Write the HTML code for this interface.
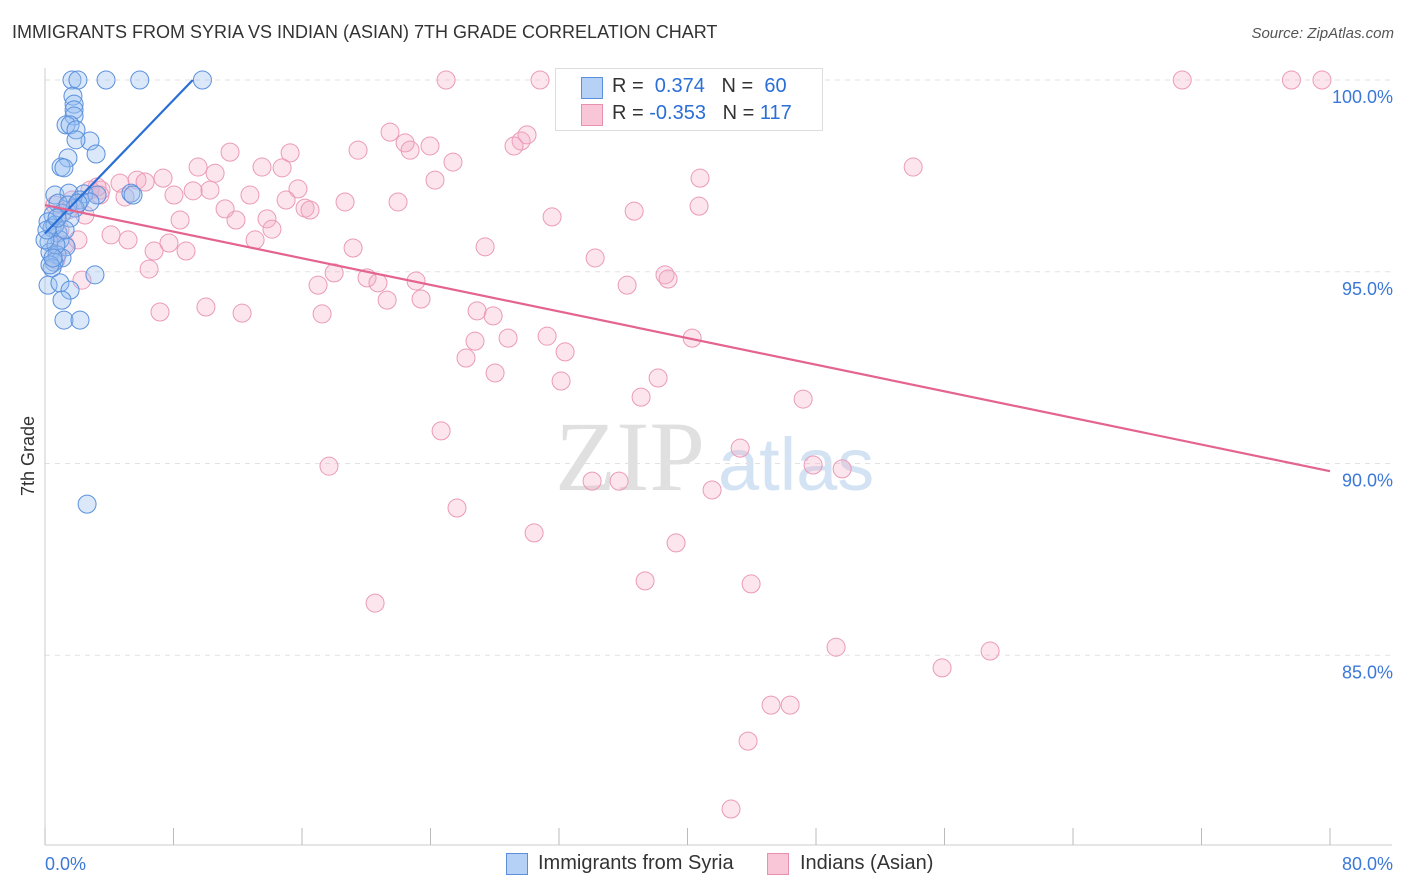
<!DOCTYPE html>
<html><head><meta charset="utf-8">
<style>
body{margin:0;background:#fff;font-family:"Liberation Sans",sans-serif;}
#wrap{position:relative;width:1406px;height:892px;overflow:hidden;}
.t{position:absolute;white-space:nowrap;}
</style></head><body>
<div id="wrap">
<div class="t" style="left:12px;top:22px;font-size:18px;color:#333;">IMMIGRANTS FROM SYRIA VS INDIAN (ASIAN) 7TH GRADE CORRELATION CHART</div>
<div class="t" style="right:12px;top:25px;font-size:15px;color:#555;font-style:italic;">Source: ZipAtlas.com</div>
<svg id="svg" width="1406" height="892" style="position:absolute;left:0;top:0"></svg>
</div>
<script>
const xTicks=[0,80];
const yTicks=[100,95,90,85];
const blueX=[1.68,2.05,3.8,5.9,9.8,1.74,1.81,1.81,1.81,1.31,1.56,1.93,2.8,1.93,1.43,3.18,1.0,1.18,0.62,1.49,2.43,3.24,5.35,5.48,2.18,2.8,1.87,0.81,0.5,1.06,1.56,0.19,0.44,0.81,0.25,0.93,1.31,0.31,0.75,1.06,0.56,0.44,0.19,0.93,1.56,3.11,1.06,1.18,2.18,2.62,0.62,1.25,0.31,0.68,1.43,2.05,0,0.12,0.75,0.5];
const blueY=[100,100,100,100,100,99.58,99.37,99.22,99.06,98.83,98.83,98.7,98.41,98.44,97.97,98.07,97.73,97.71,97.0,97.05,97.03,97.0,97.05,97.0,96.87,96.82,96.66,96.79,96.48,96.53,96.4,96.3,96.14,96.01,95.78,95.83,95.65,95.51,95.44,95.36,95.25,95.1,94.65,94.71,94.52,94.92,94.26,93.74,93.74,88.94,96.22,96.09,95.18,95.7,96.74,96.79,95.83,96.09,96.4,95.36];
const pinkX=[24.97,30.82,46.7,70.8,77.6,79.5,21.48,22.42,23.97,22.73,19.49,29.64,30.01,29.2,11.52,15.26,25.4,54.05,9.53,13.51,10.59,14.76,40.78,24.28,7.35,5.73,6.23,4.67,10.27,9.22,8.03,15.75,12.76,4.98,3.49,3.24,18.68,21.98,15.01,16.19,16.5,40.72,36.68,31.57,11.21,8.41,11.89,13.82,14.13,4.11,5.17,13.08,7.72,6.79,8.78,19.18,27.4,34.25,6.48,18.0,20.05,20.73,23.1,17.0,38.6,38.79,36.24,21.3,23.41,17.25,26.9,27.9,7.16,10.02,12.27,31.26,28.83,26.77,32.38,26.21,28.02,32.13,38.17,40.29,37.11,47.2,24.66,17.68,43.28,47.82,49.63,34.06,35.74,41.53,25.65,30.45,39.29,37.36,43.96,20.55,49.25,58.84,55.85,45.2,46.39,43.77,42.71,2.3,1.43,0.93,0.62,2.05,2.8,3.42,1.25,1.68,2.49,0.68];
const pinkY=[100,100,100,100,100,100,98.64,98.36,98.28,98.17,98.17,98.41,98.57,98.28,98.12,98.1,97.86,97.73,97.73,97.73,97.57,97.71,97.44,97.39,97.44,97.39,97.34,97.31,97.13,97.11,97.0,97.16,97.0,96.95,97.13,97.21,96.82,96.82,96.87,96.66,96.61,96.71,96.58,96.43,96.64,96.35,96.35,96.38,96.11,95.96,95.83,95.83,95.75,95.54,95.54,95.62,95.65,95.36,95.07,94.97,94.84,94.71,94.76,94.65,94.92,94.81,94.65,94.26,94.29,93.9,93.98,93.85,93.95,94.08,93.92,93.32,93.27,93.19,92.91,92.75,92.36,92.15,92.23,93.27,91.73,91.68,90.85,89.93,90.4,89.96,89.86,89.54,89.54,89.31,88.84,88.19,87.93,86.94,86.86,86.36,85.21,85.11,84.67,83.7,83.7,82.76,80.99,94.78,96.61,96.09,96.74,95.83,97.13,97.0,95.7,96.87,96.48,95.31];
const blueTrend=[0,96.0,9.2,100];
const pinkTrend=[0,96.74,80,89.8];

const svg=document.getElementById('svg');
const NS='http://www.w3.org/2000/svg';
const X0=45,X1=1330,Y100=80,PXPER=38.35;
const sx=v=>X0+(X1-X0)*v/80;
const sy=v=>Y100+(100-v)*PXPER;
function mk(tag,attrs,parent){const e=document.createElementNS(NS,tag);for(const k in attrs)e.setAttribute(k,attrs[k]);(parent||svg).appendChild(e);return e;}
const wm=mk('text',{x:555,y:490,'font-size':100,fill:'#e0e0e0','font-family':'Liberation Serif, serif'});wm.textContent='ZIP';


const wm2=mk('text',{x:718,y:490,'font-size':74,fill:'#d3e3f4','font-family':'Liberation Sans, sans-serif'});wm2.textContent='atlas';


yTicks.forEach(v=>{
 const l=mk('line',{x1:X0,x2:1392,y1:sy(v),y2:sy(v),stroke:'#e2e2e2','stroke-dasharray':'5,5'});
 
 
 const t=mk('text',{x:1393,y:sy(v)+23,'text-anchor':'end','font-size':18,fill:'#3b78d8'});
 t.textContent=v.toFixed(1)+'%';
 
 
});
mk('line',{x1:X0,x2:X0,y1:68,y2:845,stroke:'#ccc'});
mk('line',{x1:X0,x2:1392,y1:845,y2:845,stroke:'#ccc'});
for(let i=0;i<=10;i++){const x=sx(i*8);mk('line',{x1:x,x2:x,y1:828,y2:845,stroke:'#bbb'});}
xTicks.forEach((v,i)=>{
 const t=mk('text',{x:i==0?45:1393,y:870,'text-anchor':i==0?'start':'end','font-size':18,fill:'#3b78d8'});
 t.textContent=v.toFixed(1)+'%';
 
 
});
const yt=mk('text',{x:34,y:456,'font-size':18,fill:'#333',transform:'rotate(-90 34 456)','text-anchor':'middle'});
yt.textContent='7th Grade';


pinkX.forEach((v,i)=>{
 const c=mk('circle',{cx:sx(v),cy:sy(pinkY[i]),r:9,fill:'rgba(244,170,195,0.3)',stroke:'#eb9ab8','stroke-width':1});
 
 
});
blueX.forEach((v,i)=>{
 const c=mk('circle',{cx:sx(v),cy:sy(blueY[i]),r:9,fill:'rgba(150,190,240,0.35)',stroke:'#5a90dc','stroke-width':1});
 
 
});
const bl=mk('line',{x1:sx(blueTrend[0]),y1:sy(blueTrend[1]),x2:sx(blueTrend[2]),y2:sy(blueTrend[3]),stroke:'#2a6fd6','stroke-width':2.2});


const pl=mk('line',{x1:sx(pinkTrend[0]),y1:sy(pinkTrend[1]),x2:sx(pinkTrend[2]),y2:sy(pinkTrend[3]),stroke:'#e4638f','stroke-width':2.2});


</script>
<div class="t" style="left:555px;top:68px;width:266px;height:61px;border:1px solid #ddd;background:#fff;">
 <div class="t" style="left:25px;top:8px;width:20px;height:20px;background:#b5d1f5;border:1px solid #5b8fd9;"></div>
 <div class="t" style="left:56px;top:6px;font-size:20px;color:#333;">R = &nbsp;<span style="color:#2a6fd6">0.374</span>&nbsp;&nbsp;&nbsp;N = &nbsp;<span style="color:#2a6fd6">60</span></div>
 <div class="t" style="left:25px;top:35px;width:20px;height:20px;background:#f8c6d6;border:1px solid #e98fb0;"></div>
 <div class="t" style="left:56px;top:33px;font-size:20px;color:#333;">R = <span style="color:#2a6fd6">-0.353</span>&nbsp;&nbsp;&nbsp;N = <span style="color:#2a6fd6">117</span></div>
</div>
<div class="t" style="left:506px;top:853px;width:20px;height:20px;background:#b5d1f5;border:1px solid #5b8fd9;"></div>
<div class="t" style="left:538px;top:852px;font-size:20px;color:#333;">Immigrants from Syria</div>
<div class="t" style="left:767px;top:853px;width:20px;height:20px;background:#f8c6d6;border:1px solid #e98fb0;"></div>
<div class="t" style="left:800px;top:852px;font-size:20px;color:#333;">Indians (Asian)</div>
</body></html>
